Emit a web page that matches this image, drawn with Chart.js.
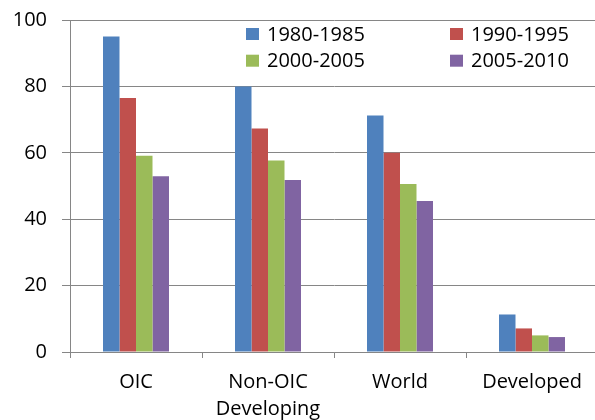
<!DOCTYPE html>
<html>
<head>
<meta charset="utf-8">
<script src="https://cdn.jsdelivr.net/npm/chart.js@4/dist/chart.umd.min.js"></script>
<style>
  html, body { margin: 0; padding: 0; background: #fff; overflow: hidden; }
  #wrap { position: relative; width: 598px; height: 420px; }
</style>
</head>
<body>
<div id="wrap"><canvas id="chart"></canvas></div>
<script>
const categories = ['OIC', ['Non-OIC', 'Developing'], 'World', 'Developed'];
const seriesLabels = ['1980-1985', '1990-1995', '2000-2005', '2005-2010'];
const values1980 = [95.0, 80.0, 71.2, 11.3];
const values1990 = [76.5, 67.3, 60.0, 7.1];
const values2000 = [59.1, 57.7, 50.6, 5.0];
const values2005 = [52.9, 51.8, 45.5, 4.5];
const seriesColors = ['#4F81BD', '#C0504D', '#9BBB59', '#8064A2'];
const yMin = 0, yMax = 100, yStep = 20;

const FONT = '"Open Sans", "Liberation Sans", sans-serif';

// legend laid out in two columns inside the plot, like the original
const gridLegend = {
    id: 'gridLegend',
    afterDraw(chart) {
        const ctx = chart.ctx;
        ctx.save();
        ctx.font = '20px ' + FONT;
        ctx.textBaseline = 'middle';
        ctx.textAlign = 'left';
        chart.data.datasets.forEach((ds, i) => {
            const col = i % 2, row = Math.floor(i / 2);
            const x = 246 + col * 204;
            const y = 34 + row * 26.7;
            ctx.fillStyle = ds.backgroundColor;
            ctx.fillRect(x, y - 6, 13, 12);
            ctx.fillStyle = '#000';
            ctx.fillText(ds.label, x + 21, y + 1);
        });
        ctx.restore();
    }
};

function makeDataset(label, data, color) {
    return {
        label: label,
        data: data,
        backgroundColor: color,
        borderWidth: 0,
        categoryPercentage: 0.5,
        barPercentage: 1.0,
    };
}

new Chart(document.getElementById('chart').getContext('2d'), {
    type: 'bar',
    data: {
        labels: categories,
        datasets: [
            makeDataset(seriesLabels[0], values1980, seriesColors[0]),
            makeDataset(seriesLabels[1], values1990, seriesColors[1]),
            makeDataset(seriesLabels[2], values2000, seriesColors[2]),
            makeDataset(seriesLabels[3], values2005, seriesColors[3]),
        ],
    },
    options: {
        responsive: true,
        maintainAspectRatio: false,
        animation: false,
        layout: { padding: { top: 20, left: 0, right: 0, bottom: 0 } },
        plugins: {
            legend: { display: false },
            tooltip: { enabled: false },
        },
        scales: {
            x: {
                grid: {
                    offset: true,
                    drawOnChartArea: false,
                    drawTicks: true,
                    tickLength: 6,
                    color: '#868686',
                },
                border: { display: true, color: '#868686', width: 1 },
                ticks: {
                    color: '#000',
                    font: { family: FONT, size: 20, lineHeight: 1.35 },
                    padding: 11,
                    maxRotation: 0,
                    autoSkip: false,
                },
                afterFit(scale) { scale.height = 68; },
            },
            y: {
                min: yMin,
                max: yMax,
                grid: {
                    color: '#868686',
                    lineWidth: 1,
                    drawTicks: true,
                    tickLength: 8,
                },
                border: { display: true, color: '#868686', width: 1 },
                ticks: {
                    stepSize: yStep,
                    color: '#000',
                    font: { family: FONT, size: 20 },
                    padding: 15,
                },
                afterFit(scale) {
                    scale.width = 70;
                    // keep the plot top pinned by layout padding only
                    scale.paddingTop = 0;
                    scale.paddingBottom = 0;
                },
            },
        },
    },
    plugins: [gridLegend],
});
</script>
</body>
</html>
